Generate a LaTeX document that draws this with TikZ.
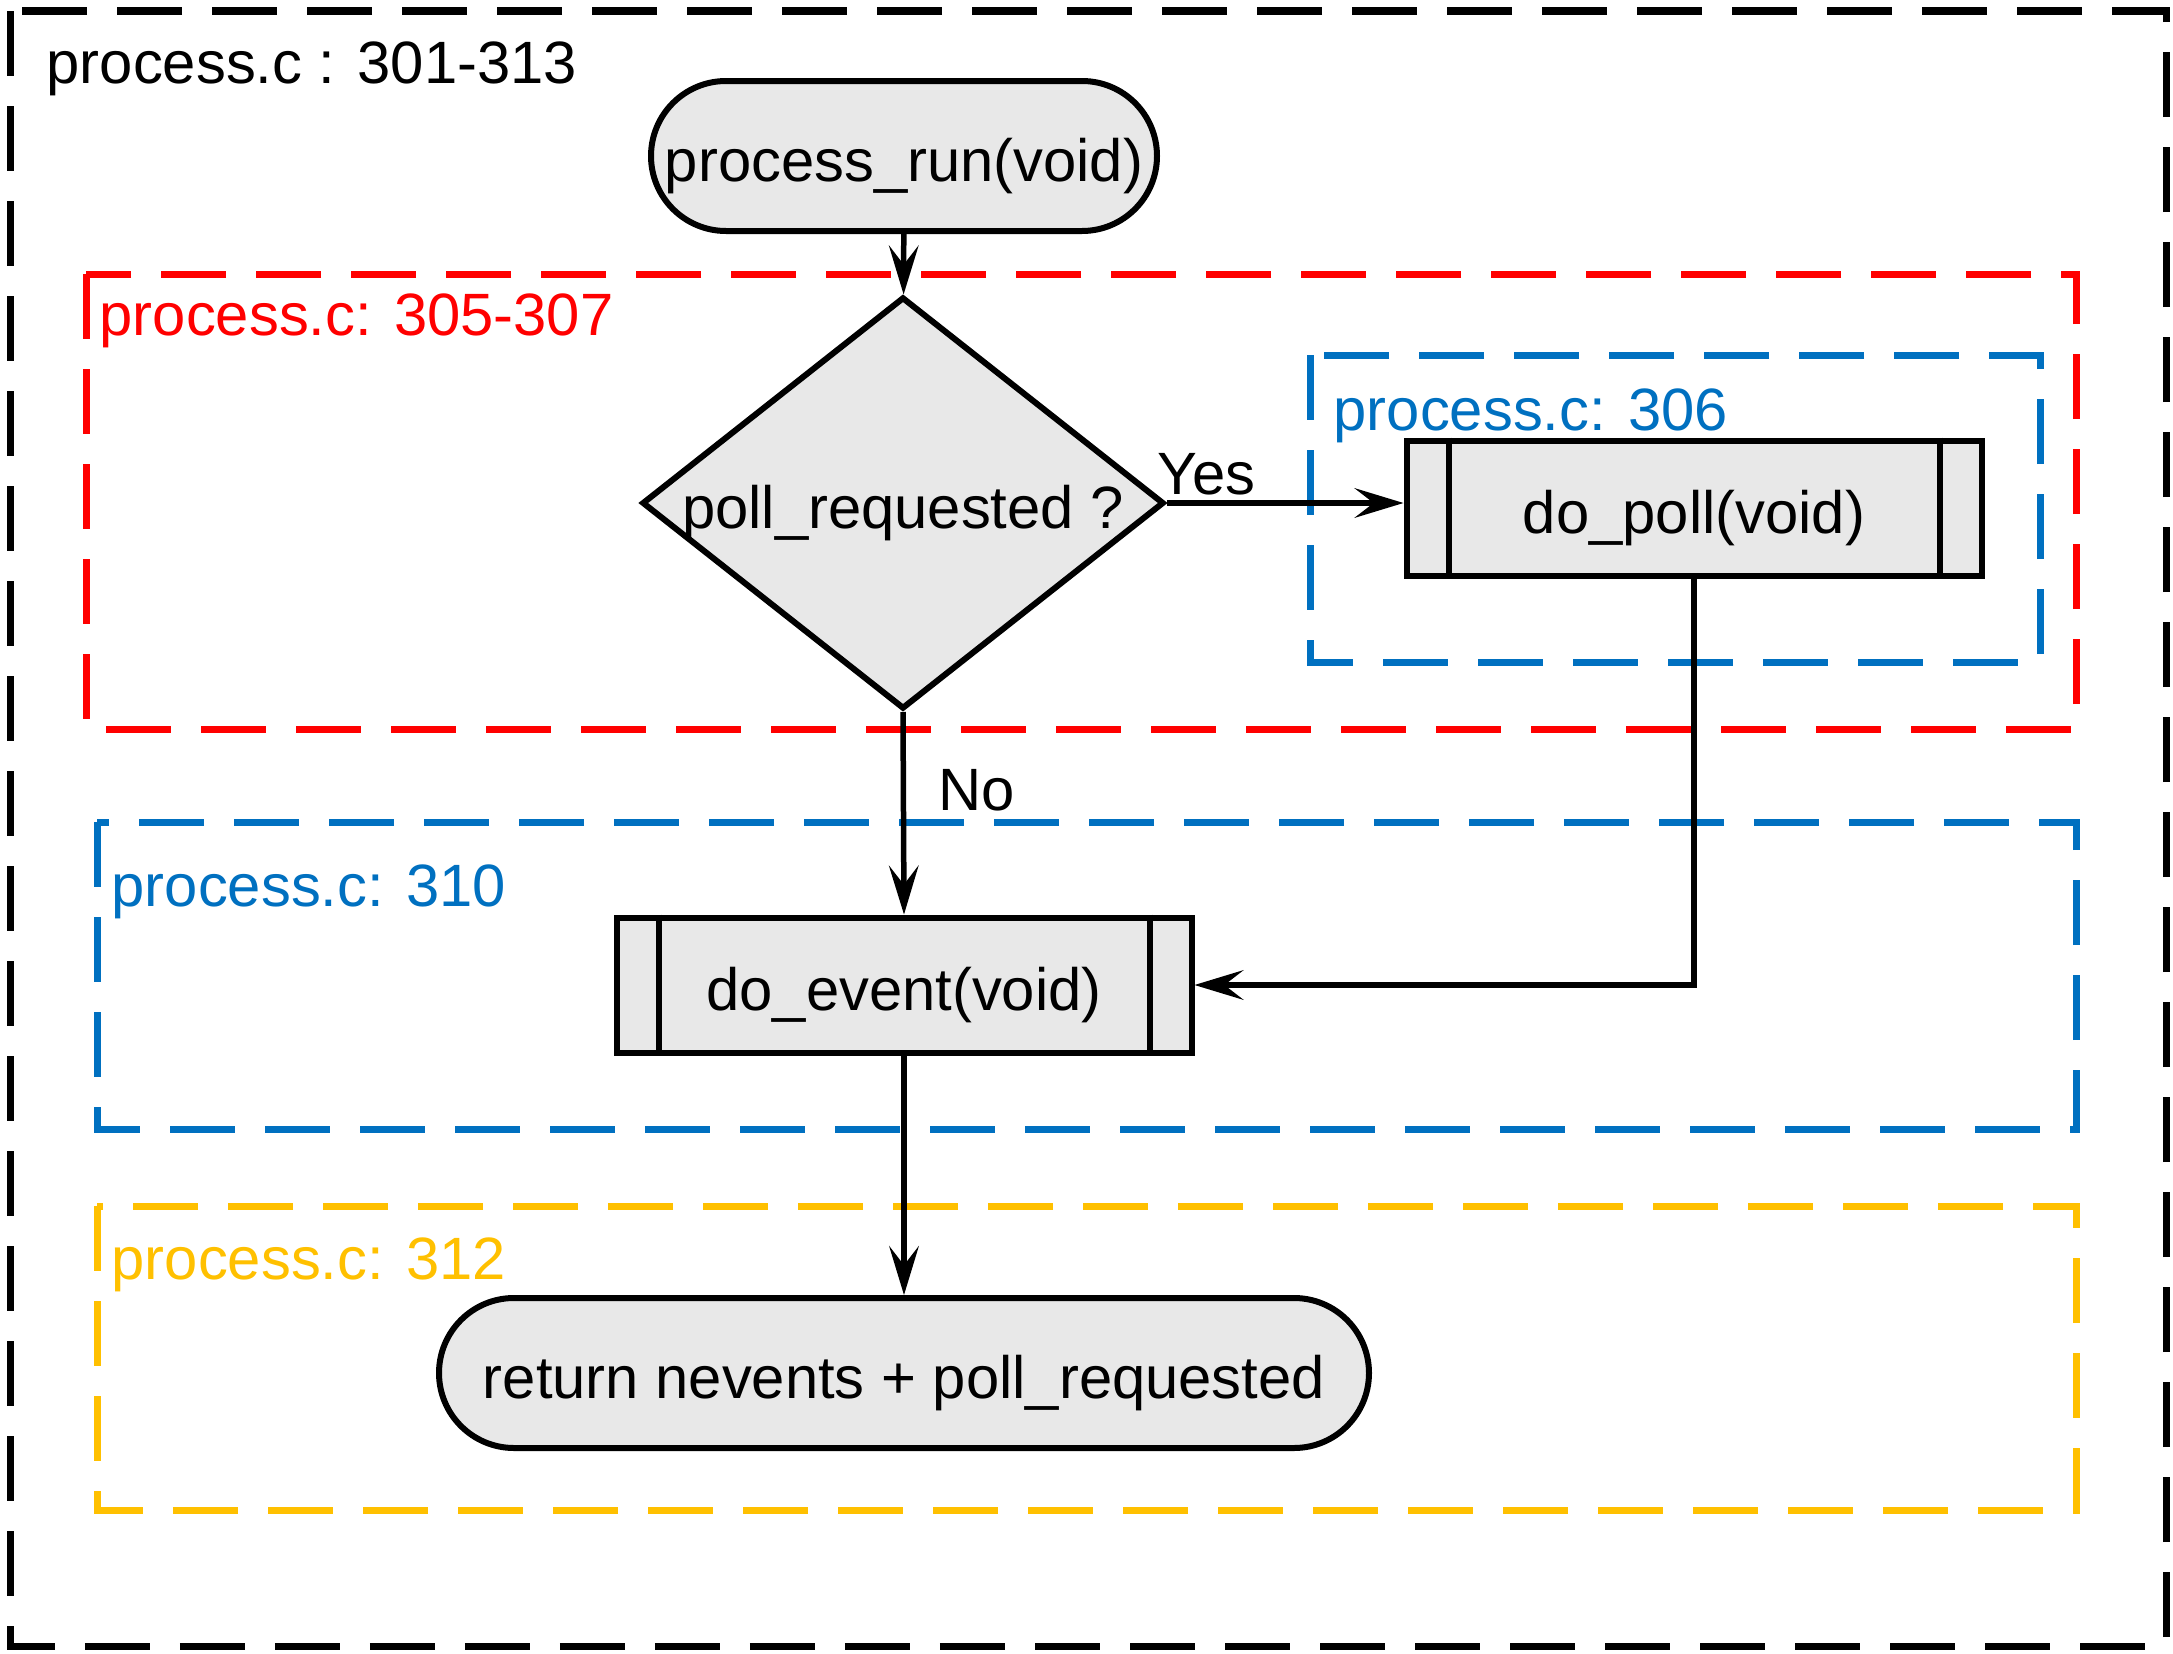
\documentclass[tikz,border=0pt]{standalone}
\usepackage{fontspec}
\setmainfont{Liberation Sans}
\usepackage{xcolor}
\usepackage{tikz}
\usetikzlibrary{arrows.meta, positioning, shapes.geometric}
\definecolor{abuabu}{RGB}{232,232,232}
\definecolor{merahblok}{RGB}{255,0,0}
\definecolor{birublok}{RGB}{0,112,192}
\definecolor{kuningblok}{RGB}{255,192,0}

\begin{document}
\begin{tikzpicture}[
    font=\fontsize{17}{20}\selectfont,
    every node/.style={text height=14.5pt, text depth=0pt},
    blok/.style={line width=0.07cm, dash pattern=on 0.65cm off 0.3cm},
    judul/.style={anchor=west, inner sep=0pt},
    terminal/.style={draw, fill=abuabu, line width=0.06cm, rounded corners=0.75cm,
                     minimum height=1.5cm, inner sep=0.1cm},
    proses/.style={draw, fill=abuabu, line width=0.06cm, minimum width=5.75cm,
                   minimum height=1.35cm},
    cabang/.style={draw, fill=abuabu, line width=0.06cm, diamond, aspect=1.267,
                   inner sep=0pt, minimum width=5.22cm, minimum height=4.12cm},
    panah/.style={line width=0.055cm, -{Stealth[length=14pt, width=8.5pt, inset=5.5pt, line width=0.8pt]}}
  ]
    \useasboundingbox (0,0) rectangle (21.73,-16.54);

    \draw[blok, black] (0.1,-0.11) rectangle (21.66,-16.46);
    \draw[blok, merahblok] (0.86,-2.74) rectangle (20.76,-7.29);
    \draw[blok, birublok] (13.10,-3.55) rectangle (20.40,-6.62);
    \draw[blok, birublok] (0.97,-8.22) rectangle (20.76,-11.29);
    \draw[blok, kuningblok] (0.97,-12.06) rectangle (20.76,-15.10);

    \node[judul] (jsemua) at (0.46,-0.58) {process.c : 301-313};
    \node[judul, text=merahblok] (jcabang) at (0.99,-3.10) {process.c: 305-307};
    \node[judul, text=birublok] (jpoll) at (13.33,-4.05) {process.c: 306};
    \node[judul, text=birublok] (jevent) at (1.11,-8.81) {process.c: 310};
    \node[judul, text=kuningblok] (jreturn) at (1.11,-12.54) {process.c: 312};

    \node[terminal, minimum width=5.06cm] (run) at (9.04,-1.56) {process\_run(void)};
    \node[cabang] (cek) at (9.03,-5.03) {poll\_requested ?};
    \node[proses] (poll) at (16.94,-5.08) {do\_poll(void)};
    \node[proses] (event) at (9.04,-9.85) {do\_event(void)};
    \node[terminal, minimum width=9.3cm] (ret) at (9.04,-13.73) {return nevents + poll\_requested};

    \foreach \n in {poll, event} {
      \draw[line width=0.06cm] ([xshift=0.45cm]\n.north west) -- ([xshift=0.45cm]\n.south west);
      \draw[line width=0.06cm] ([xshift=-0.45cm]\n.north east) -- ([xshift=-0.45cm]\n.south east);
    }

    \draw[panah] (run) -- (cek);
    \draw[panah] (cek.east) -- node[pos=0, anchor=south west, inner sep=0pt, xshift=-0.12cm, yshift=0.06cm] (ya) {Yes} (cek.east -| poll.west);
    \draw[panah] (cek.south) -- node[pos=0.36, anchor=west, inner sep=0pt, xshift=0.32cm] (tidak) {No} (event.north);
    \draw[panah] (poll.south) |- (event.east);
    \draw[panah] (event) -- (ret);
  \end{tikzpicture}
\end{document}
